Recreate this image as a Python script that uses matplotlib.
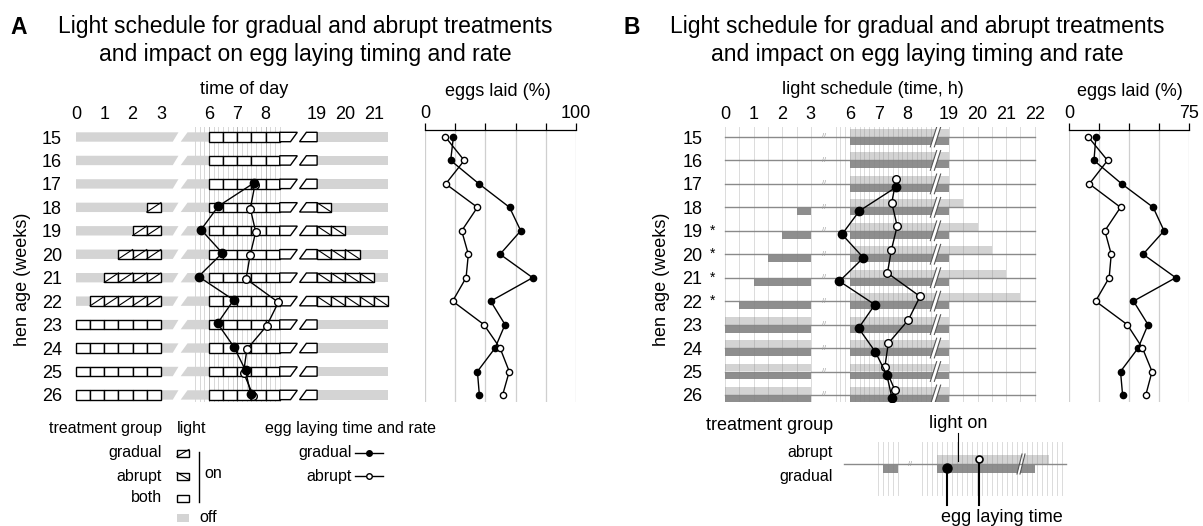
import numpy as np
import matplotlib.pyplot as plt
from matplotlib.patches import Polygon, Rectangle

plt.rcParams['font.family'] = ['Liberation Sans', 'DejaVu Sans']

# hen age rows
weeks = [15, 16, 17, 18, 19, 20, 21, 22, 23, 24, 25, 26]
starred_weeks = [19, 20, 21, 22]

# light schedule (hours): dawn block ends at 3 h, main block runs 6 h -> dusk
gradual_dawn = [3, 3, 3, 2.5, 2, 1.5, 1, 0.5, 0, 0, 0, 0]
abrupt_dawn = [3, 3, 3, 3, 3, 3, 3, 3, 0, 0, 0, 0]
gradual_dusk = [19, 19, 19, 19, 19, 19, 19, 19, 19, 19, 19, 19]
abrupt_dusk = [19, 19, 19, 19.5, 20, 20.5, 21, 21.5, 19, 19, 19, 19]
lights_on = 6
dawn_end = 3

# mean egg laying time (h), from week 17 on
lay_weeks = [17, 18, 19, 20, 21, 22, 23, 24, 25, 26]
lay_gradual = [7.6, 6.33, 5.72, 6.47, 5.63, 6.87, 6.3, 6.88, 7.29, 7.47]
lay_abrupt = [7.62, 7.46, 7.65, 7.45, 7.31, 8.45, 8.04, 7.34, 7.22, 7.57]

# eggs laid (%) as drawn in panel A and in panel B
eggs_gradual_a = [18.8, 17.0, 35.8, 56.0, 63.4, 49.7, 71.3, 43.5, 53.0, 46.4, 34.7, 36.0]
eggs_abrupt_a = [13.5, 26.0, 13.7, 34.7, 24.3, 28.7, 27.2, 18.3, 39.0, 49.7, 55.8, 51.4]
eggs_gradual_b = [16.8, 15.6, 33.0, 52.6, 59.4, 46.3, 66.7, 40.3, 49.4, 43.2, 32.2, 33.5]
eggs_abrupt_b = [12.1, 24.1, 12.7, 32.2, 22.4, 26.4, 25.1, 16.6, 36.4, 45.9, 51.9, 48.0]

ticks_a = [0, 1, 2, 3, 6, 7, 8, 19, 20, 21]
ticks_b = [0, 1, 2, 3, 6, 7, 8, 19, 20, 21, 22]
eggs_ticks_a = [0, 20, 40, 60, 80, 100]
eggs_labels_a = ['0', '', '', '', '', '100']
eggs_ticks_b = [0, 18.75, 37.5, 56.25, 75]
eggs_labels_b = ['0', '', '', '', '75']

OFF = '#d4d4d4'
LIGHT = '#d3d3d3'
DARK = '#8e8e8e'
FS = 13
FS_LEG = 11.5
FS_TITLE = 16.5

W, H = 1203, 526
fig = plt.figure(figsize=(W / 100, H / 100), dpi=100)

ROW0, ROWH = 137, 23.45   # pixel y of week 15, pixels per week


def add_px_axes(x0, x1, y0, y1):
    ax = fig.add_axes([x0 / W, 1 - y1 / H, (x1 - x0) / W, (y1 - y0) / H])
    ax.set_ylim(15 + (y1 - ROW0) / ROWH, 15 + (y0 - ROW0) / ROWH)
    return ax


def tpos_a(h):
    # broken time axis of panel A, in hour widths
    if h <= 4.5:
        return h
    if h <= 12:
        return h - 6 + 4.7
    return h - 19 + 8.52


def tpos_b(h):
    if h <= 4.5:
        return h
    if h <= 12:
        return h - 6 + 4.37
    return h - 19 + 7.83


def style_sched(ax, ticks, tpos, ypad):
    for s in ax.spines.values():
        s.set_visible(False)
    ax.xaxis.set_ticks_position('top')
    ax.set_xticks([tpos(t) for t in ticks], [str(t) for t in ticks])
    ax.set_yticks(weeks, [str(w) for w in weeks])
    ax.tick_params(length=0, labelsize=FS)
    ax.tick_params(axis='x', pad=3)
    ax.tick_params(axis='y', pad=ypad)


def style_eggs(ax, ticks, labels, xmax):
    ax.set_xlim(0, xmax)
    for k in ['left', 'right', 'bottom']:
        ax.spines[k].set_visible(False)
    ax.spines['top'].set_linewidth(0.9)
    ax.xaxis.set_ticks_position('top')
    ax.set_xticks(ticks, labels)
    ax.tick_params(axis='x', direction='out', length=5, width=0.9, pad=1, labelsize=FS)
    ax.set_yticks([])
    ax.grid(axis='x', color='#cfcfcf', lw=0.9)
    ax.set_axisbelow(True)


HB = 0.2    # half bar height (weeks)
SL = 0.24   # slant width of break edges


def cell(ax, x0, x1, y, kind, sl_left=False, sl_right=False):
    yb, yt = y + HB, y - HB
    bl = x0 - SL / 2 if sl_left else x0
    tl = x0 + SL / 2 if sl_left else x0
    br = x1 - SL / 2 if sl_right else x1
    tr = x1 + SL / 2 if sl_right else x1
    ax.add_patch(Polygon([(bl, yb), (tl, yt), (tr, yt), (br, yb)], closed=True,
                         fc='white', ec='black', lw=1, zorder=3))
    if kind == 'gradual':
        ax.plot([x0, x1], [yb, yt], color='black', lw=0.8, zorder=4)
    elif kind == 'abrupt':
        ax.plot([x0, x1], [yt, yb], color='black', lw=0.8, zorder=4)


def off_bar(ax, bl, tl, tr, br, y):
    ax.add_patch(Polygon([(bl, y + HB), (tl, y - HB), (tr, y - HB), (br, y + HB)],
                         closed=True, fc=OFF, ec='none', zorder=2))


def kind_of(g, a):
    if g and a:
        return 'both'
    return 'gradual' if g else 'abrupt'


# ---------------- panel A: schedule ----------------
axA = add_px_axes(66, 400, 127, 402)
axA.set_xlim((66 - 76) / 28.3, (400 - 76) / 28.3)
style_sched(axA, ticks_a, tpos_a, 3)

for h in np.arange(5.5, 8.51, 1 / 6):
    c = '#b5b5b5' if abs(h - round(h)) < 0.01 else '#d8d8d8'
    axA.axvline(tpos_a(h), color=c, lw=0.7, zorder=1)

for w, gd, ad, gk, ak in zip(weeks, gradual_dawn, abrupt_dawn, gradual_dusk, abrupt_dusk):
    off_bar(axA, 0, 0, 3.62, 3.42, w)
    off_bar(axA, 3.70, 3.94, tpos_a(lights_on), tpos_a(lights_on), w)
    off_bar(axA, tpos_a(19), tpos_a(19), tpos_a(21.5), tpos_a(21.5), w)
    for t in np.arange(min(gd, ad), dawn_end, 0.5):
        cell(axA, tpos_a(t), tpos_a(t + 0.5), w, kind_of(t >= gd, t >= ad))
    for t in [6, 6.5, 7, 7.5, 8, 8.5]:
        cell(axA, tpos_a(t), tpos_a(t + 0.5), w, 'both', sl_right=(t == 8.5))
    cell(axA, tpos_a(18.5), tpos_a(19), w, 'both', sl_left=True)
    for t in np.arange(19, max(gk, ak), 0.5):
        cell(axA, tpos_a(t), tpos_a(t + 0.5), w, kind_of(t < gk, t < ak))

axA.plot([tpos_a(t) for t in lay_abrupt], np.array(lay_weeks) + 0.05, '-o', color='black',
         mfc='white', mec='black', ms=5.5, mew=1, lw=1, zorder=6)
axA.plot([tpos_a(t) for t in lay_gradual], np.array(lay_weeks) - 0.05, '-o', color='black',
         mfc='black', mec='black', ms=6, lw=1, zorder=7)

# ---------------- panel A: eggs laid ----------------
axAe = add_px_axes(425, 576, 130, 402)
style_eggs(axAe, eggs_ticks_a, eggs_labels_a, 100)
axAe.plot(eggs_gradual_a, weeks, '-o', color='black', mfc='black', ms=4.5, lw=1, zorder=4)
axAe.plot(eggs_abrupt_a, weeks, '-o', color='black', mfc='white', mec='black', ms=4.5, lw=1, zorder=4)

# ---------------- panel B: schedule ----------------
BH = 0.34
axB = add_px_axes(715, 1045, 127, 402)
axB.set_xlim((715 - 725) / 28.6, (1045 - 725) / 28.6)
style_sched(axB, ticks_b, tpos_b, 9)

for w, gd, ad, gk, ak in zip(weeks, gradual_dawn, abrupt_dawn, gradual_dusk, abrupt_dusk):
    axB.plot([tpos_b(0), tpos_b(22)], [w, w], color='#8a8a8a', lw=1, zorder=2)
    axB.text(3.46, w, '//', fontsize=5, color='#9a9a9a', ha='center', va='center', zorder=2)
    if ad < dawn_end:
        axB.barh(w - BH, tpos_b(dawn_end) - tpos_b(ad), left=tpos_b(ad), height=BH,
                 align='edge', color=LIGHT, zorder=1)
    if gd < dawn_end:
        axB.barh(w, tpos_b(dawn_end) - tpos_b(gd), left=tpos_b(gd), height=BH,
                 align='edge', color=DARK, zorder=1)
    axB.barh(w - BH, tpos_b(ak) - tpos_b(lights_on), left=tpos_b(lights_on), height=BH,
             align='edge', color=LIGHT, zorder=1)
    axB.barh(w, tpos_b(gk) - tpos_b(lights_on), left=tpos_b(lights_on), height=BH,
             align='edge', color=DARK, zorder=1)
    # axis break on the light block
    bx, s = 7.3, 0.12
    axB.add_patch(Polygon([(bx - s, w + 0.42), (bx + s - 0.02, w - 0.42),
                           (bx + s + 0.12, w - 0.42), (bx - s + 0.14, w + 0.42)],
                          closed=True, fc='white', ec='none', zorder=4))
    axB.plot([bx - s, bx + s - 0.02], [w + 0.42, w - 0.42], color='#555555', lw=0.8, zorder=5)
    axB.plot([bx - s + 0.14, bx + s + 0.12], [w + 0.42, w - 0.42], color='#555555', lw=0.8, zorder=5)

grid_b = list(np.arange(0, 3.01, 0.5)) + list(np.arange(5.5, 8.9, 1 / 6)) + list(np.arange(19, 22.01, 0.5))
for h in grid_b:
    axB.axvline(tpos_b(h), color='#808080', alpha=0.28, lw=0.7, zorder=3)

for w in starred_weeks:
    axB.text(-0.42, w, '*', fontsize=10, ha='center', va='center')

axB.plot([tpos_b(t) for t in lay_abrupt], np.array(lay_weeks) - 0.2, '-o', color='black',
         mfc='white', mec='black', ms=5.5, mew=1, lw=1, zorder=6)
axB.plot([tpos_b(t) for t in lay_gradual], np.array(lay_weeks) + 0.15, '-o', color='black',
         mfc='black', mec='black', ms=6, lw=1, zorder=7)

# ---------------- panel B: eggs laid ----------------
axBe = add_px_axes(1069, 1189, 130, 402)
style_eggs(axBe, eggs_ticks_b, eggs_labels_b, 75)
axBe.plot(eggs_gradual_b, weeks, '-o', color='black', mfc='black', ms=4.5, lw=1, zorder=4)
axBe.plot(eggs_abrupt_b, weeks, '-o', color='black', mfc='white', mec='black', ms=4.5, lw=1, zorder=4)

# ---------------- free text and legends (pixel coordinates) ----------------
ov = fig.add_axes([0, 0, 1, 1])
ov.set_xlim(0, W)
ov.set_ylim(H, 0)
ov.axis('off')

title1 = 'Light schedule for gradual and abrupt treatments'
title2 = 'and impact on egg laying timing and rate'
for lab, x0, xc in [('A', 19, 305), ('B', 632, 917)]:
    ov.text(x0, 27, lab, fontsize=FS_TITLE, fontweight='bold', ha='center', va='center')
    ov.text(xc, 27, title1, fontsize=FS_TITLE, ha='center', va='center')
    ov.text(xc, 55, title2, fontsize=FS_TITLE, ha='center', va='center')

ov.text(244, 90, 'time of day', fontsize=FS, ha='center', va='center')
ov.text(498, 92, 'eggs laid (%)', fontsize=FS, ha='center', va='center')
ov.text(873, 90, 'light schedule (time, h)', fontsize=FS, ha='center', va='center')
ov.text(1130, 92, 'eggs laid (%)', fontsize=FS, ha='center', va='center')
ov.text(23, 279, 'hen age (weeks)', fontsize=FS, rotation=90, ha='center', va='center')
ov.text(662, 279, 'hen age (weeks)', fontsize=FS, rotation=90, ha='center', va='center')

# legend A
ov.text(162, 429, 'treatment group', fontsize=FS_LEG, ha='right', va='center')
ov.text(177, 429, 'light', fontsize=FS_LEG, ha='left', va='center')
for y, lab in [(453, 'gradual'), (476, 'abrupt'), (498, 'both')]:
    ov.text(162, y, lab, fontsize=FS_LEG, ha='right', va='center')
    ov.add_patch(Rectangle((177, y - 3.5), 12, 7, fc='white', ec='black', lw=1))
    if lab == 'gradual':
        ov.plot([177, 189], [y + 3.5, y - 3.5], color='black', lw=0.8)
    elif lab == 'abrupt':
        ov.plot([177, 189], [y - 3.5, y + 3.5], color='black', lw=0.8)
ov.plot([199, 199], [452, 502], color='black', lw=1)
ov.text(204, 473, 'on', fontsize=FS_LEG, ha='left', va='center')
ov.add_patch(Rectangle((177, 514), 12, 8, fc=OFF, ec='none'))
ov.text(199, 518, 'off', fontsize=FS_LEG, ha='left', va='center')

ov.text(265, 429, 'egg laying time and rate', fontsize=FS_LEG, ha='left', va='center')
ov.text(352, 453, 'gradual', fontsize=FS_LEG, ha='right', va='center')
ov.plot([355, 383], [453, 453], color='black', lw=1)
ov.plot([369], [453], 'o', mfc='black', mec='black', ms=4)
ov.text(352, 476, 'abrupt', fontsize=FS_LEG, ha='right', va='center')
ov.plot([355, 383], [476, 476], color='black', lw=1)
ov.plot([369], [476], 'o', mfc='white', mec='black', ms=4)

# legend B (mini schedule)
ov.text(833, 426, 'treatment group', fontsize=FS, ha='right', va='center')
ov.text(833, 452, 'abrupt', fontsize=FS_LEG, ha='right', va='center')
ov.text(833, 477, 'gradual', fontsize=FS_LEG, ha='right', va='center')
ov.add_patch(Rectangle((883, 464), 15, 9, fc=DARK, ec='none'))
ov.add_patch(Rectangle((937, 455), 112, 9, fc=LIGHT, ec='none'))
ov.add_patch(Rectangle((937, 464), 98, 9, fc=DARK, ec='none'))
for x in list(np.arange(878, 899, 5)) + list(np.arange(922, 1063, 5)):
    ov.plot([x, x], [442, 495], color='#808080', alpha=0.28, lw=0.7)
ov.plot([844, 1066], [464, 464], color='#8a8a8a', lw=1)
ov.text(910, 464, '//', fontsize=5, color='#9a9a9a', ha='center', va='center')
ov.add_patch(Polygon([(1017, 474), (1022, 454), (1025, 454), (1020, 474)], closed=True, fc='white', ec='none'))
ov.plot([1017, 1022], [474, 454], color='#555555', lw=0.8)
ov.plot([1020, 1025], [474, 454], color='#555555', lw=0.8)
ov.plot([947, 947], [468, 505], color='black', lw=1.5)
ov.plot([947], [468], 'o', mfc='black', mec='black', ms=6.5)
ov.plot([979, 979], [459, 505], color='black', lw=1.5)
ov.plot([979], [459], 'o', mfc='white', mec='black', ms=5, mew=1.2)
ov.plot([958, 958], [433, 461], color='black', lw=0.8)
ov.text(958, 423, 'light on', fontsize=FS, ha='center', va='center')
ov.text(1002, 517, 'egg laying time', fontsize=FS, ha='center', va='center')

fig.savefig('out.png', dpi=100)
